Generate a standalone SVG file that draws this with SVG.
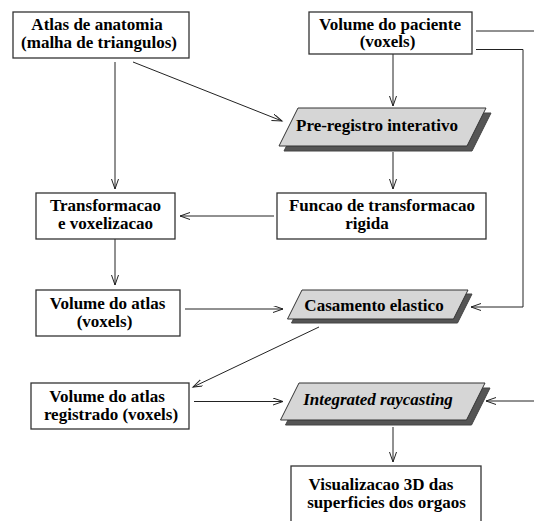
<svg xmlns="http://www.w3.org/2000/svg" width="534" height="521" viewBox="0 0 534 521">
<style>
.box{fill:#fff;stroke:#333;stroke-width:1.3}
.para{fill:#d6d6d6;stroke:#333;stroke-width:1}
.shadow{fill:#555;stroke:#444;stroke-width:1}
.t{font-family:"Liberation Serif","Times New Roman",serif;font-weight:bold;font-size:17px;fill:#000;text-anchor:middle}
.it{font-style:italic}
.c{fill:none;stroke:#222;stroke-width:1}
</style>
<defs>
<marker id="ah" markerUnits="userSpaceOnUse" markerWidth="12" markerHeight="9" refX="10" refY="3.5" orient="auto">
<path d="M0,0 L10,3.5 L0,7" fill="none" stroke="#222" stroke-width="1"/>
</marker>
</defs>
<rect width="534" height="521" fill="#fff"/>
<g id="connectors">
<path class="c" d="M115,62 V189" marker-end="url(#ah)"/>
<path class="c" d="M133,62 L282,121" marker-end="url(#ah)"/>
<path class="c" d="M393,54 V106" marker-end="url(#ah)"/>
<path class="c" d="M393,152 V189" marker-end="url(#ah)"/>
<path class="c" d="M274,216 H180" marker-end="url(#ah)"/>
<path class="c" d="M115,239 V285" marker-end="url(#ah)"/>
<path class="c" d="M185,309 H283" marker-end="url(#ah)"/>
<path class="c" d="M476,49.5 H523 V307 H471" marker-end="url(#ah)"/>
<path class="c" d="M476,31 H534"/>
<path class="c" d="M319,327 L193,387" marker-end="url(#ah)"/>
<path class="c" d="M194,401.5 H283" marker-end="url(#ah)"/>
<path class="c" d="M534,401 H486" marker-end="url(#ah)"/>
<path class="c" d="M393,427 V462" marker-end="url(#ah)"/>
</g>
<g id="atlas">
<rect class="box" x="13" y="12" width="176" height="46"/>
<text class="t" x="97" y="30">Atlas de anatomia</text>
<text class="t" x="99" y="48">(malha de triangulos)</text>
</g>
<g id="paciente">
<rect class="box" x="309" y="12" width="163" height="42"/>
<text class="t" x="390" y="29.5">Volume do paciente</text>
<text class="t" x="387.5" y="47">(voxels)</text>
</g>
<g id="preregistro">
<polygon class="shadow" points="303,113 491,113 472,151 284,151"/>
<polygon class="para" points="298,108 486,108 467,146 279,146"/>
<text class="t" x="377" y="131">Pre-registro interativo</text>
</g>
<g id="transformacao">
<rect class="box" x="36" y="193" width="139" height="46"/>
<text class="t" x="105.5" y="211">Transformacao</text>
<text class="t" x="105.5" y="229">e voxelizacao</text>
</g>
<g id="funcao">
<rect class="box" x="277" y="193" width="209" height="46"/>
<text class="t" x="382" y="211">Funcao de transformacao</text>
<text class="t" x="367" y="229">rigida</text>
</g>
<g id="volatlas">
<rect class="box" x="36" y="290" width="144" height="46"/>
<text class="t" x="107.5" y="308.5">Volume do atlas</text>
<text class="t" x="104.5" y="326.5">(voxels)</text>
</g>
<g id="casamento">
<polygon class="shadow" points="306,294 472,294 457.5,323 291.5,323"/>
<polygon class="para" points="302,290 468,290 453.5,319 287.5,319"/>
<text class="t" x="374" y="311">Casamento elastico</text>
</g>
<g id="registrado">
<rect class="box" x="31" y="383" width="158" height="46"/>
<text class="t" x="107" y="402">Volume do atlas</text>
<text class="t" x="111" y="420">registrado (voxels)</text>
</g>
<g id="raycasting">
<polygon class="shadow" points="304,388 490,388 471.5,425 285.5,425"/>
<polygon class="para" points="299,383 485,383 466.5,420 280.5,420"/>
<text class="t it" x="378" y="405">Integrated raycasting</text>
</g>
<g id="visualizacao">
<rect class="box" x="291" y="466" width="190" height="70"/>
<text class="t" x="381" y="489.5">Visualizacao 3D das</text>
<text class="t" x="386.5" y="507.5">superficies dos orgaos</text>
</g>
</svg>
